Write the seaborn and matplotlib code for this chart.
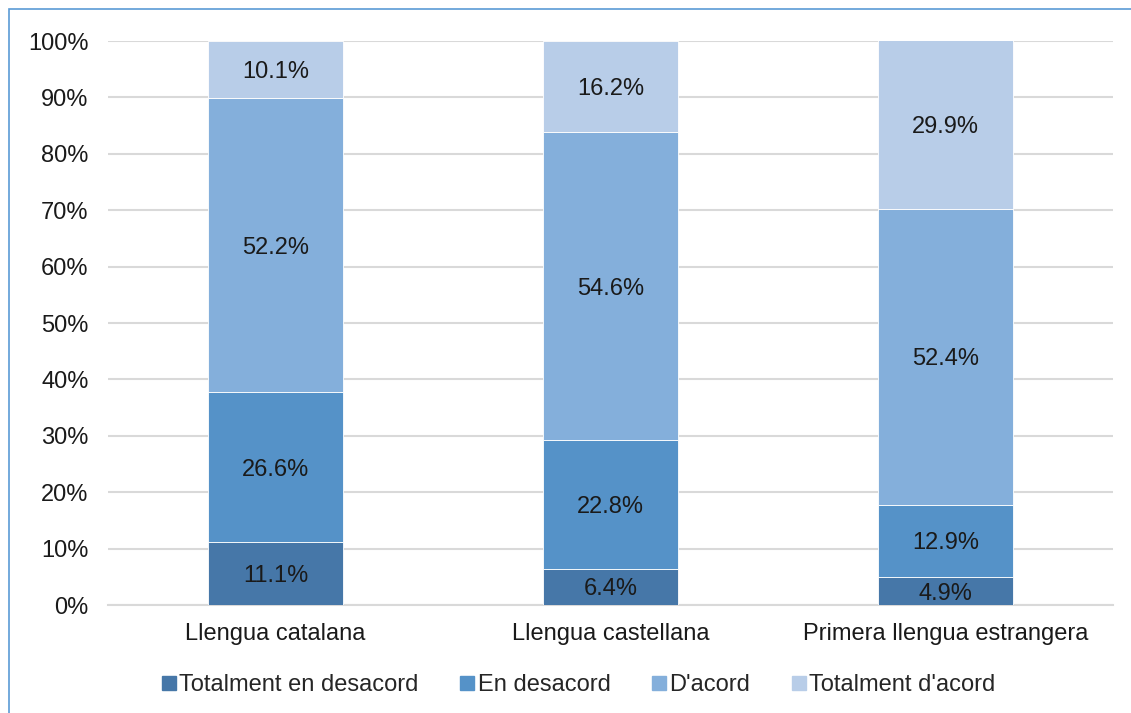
import matplotlib
matplotlib.use("Agg")
import matplotlib.pyplot as plt
import seaborn as sns
import pandas as pd
import numpy as np
from matplotlib.patches import Rectangle
from matplotlib.lines import Line2D

categories = ["Llengua catalana", "Llengua castellana", "Primera llengua estrangera"]
series_names = ["Totalment en desacord", "En desacord", "D'acord", "Totalment d'acord"]
tot_desacord = [11.1, 6.4, 4.9]
desacord = [26.6, 22.8, 12.9]
acord = [52.2, 54.6, 52.4]
tot_acord = [10.1, 16.2, 29.9]
colors = ["#4677a8", "#5592c8", "#84afdb", "#b8cde8"]

sns.set_theme(style="white")
plt.rcParams['font.family'] = ['Liberation Sans', 'DejaVu Sans']
FS = 17

fig = plt.figure(figsize=(11.31, 7.13), dpi=100)
ax = fig.add_axes([108/1131, 1-605/713, (1113-108)/1131, (605-41)/713])

values = [tot_desacord, desacord, acord, tot_acord]
bottom = np.zeros(len(categories))
for name, vals, col in zip(series_names, values, colors):
    df = pd.DataFrame({"cat": categories, "val": vals})
    sns.barplot(data=df, x="cat", y="val", color=col, width=0.403,
                bottom=bottom, ax=ax, saturation=1, zorder=3,
                edgecolor="#ffffff", linewidth=0.6)
    for i, v in enumerate(vals):
        ax.text(i, bottom[i] + v/2, f"{v:.1f}%", ha="center", va="center_baseline",
                fontsize=FS, color="#1a1a1a", zorder=4)
    bottom = bottom + np.array(vals)

ax.set_ylim(0, 100)
ax.set_xlim(-0.5, 2.5)
ax.set_yticks(np.arange(0, 101, 10))
ax.set_yticklabels([f"{t}%" for t in range(0, 101, 10)])
ax.yaxis.grid(True, color="#d9d9d9", linewidth=1.5, zorder=0)
ax.set_axisbelow(True)
ax.tick_params(axis="both", length=0, labelsize=FS, colors="#1a1a1a")
ax.tick_params(axis="y", pad=14)
ax.tick_params(axis="x", pad=13)
ax.set_xlabel("")
ax.set_ylabel("")
for s in ["top", "right", "left"]:
    ax.spines[s].set_visible(False)
ax.spines["bottom"].set_color("#d9d9d9")
ax.spines["bottom"].set_linewidth(1.5)

handles = [Line2D([0], [0], marker="s", linestyle="none", markersize=10,
                  markerfacecolor=c, markeredgecolor=c) for c in colors]
fig.legend(handles, series_names, loc="center", bbox_to_anchor=(0.51, 1-685/713),
           ncol=4, frameon=False, fontsize=FS, handletextpad=0.0,
           columnspacing=1.6, handlelength=0.9)

fig.patches.append(Rectangle((9/1131, -0.1), 1.2, 1-9/713+0.1, transform=fig.transFigure,
                             fill=False, edgecolor="#5b9bd5", linewidth=1.2))

fig.savefig("out.png", dpi=100)
